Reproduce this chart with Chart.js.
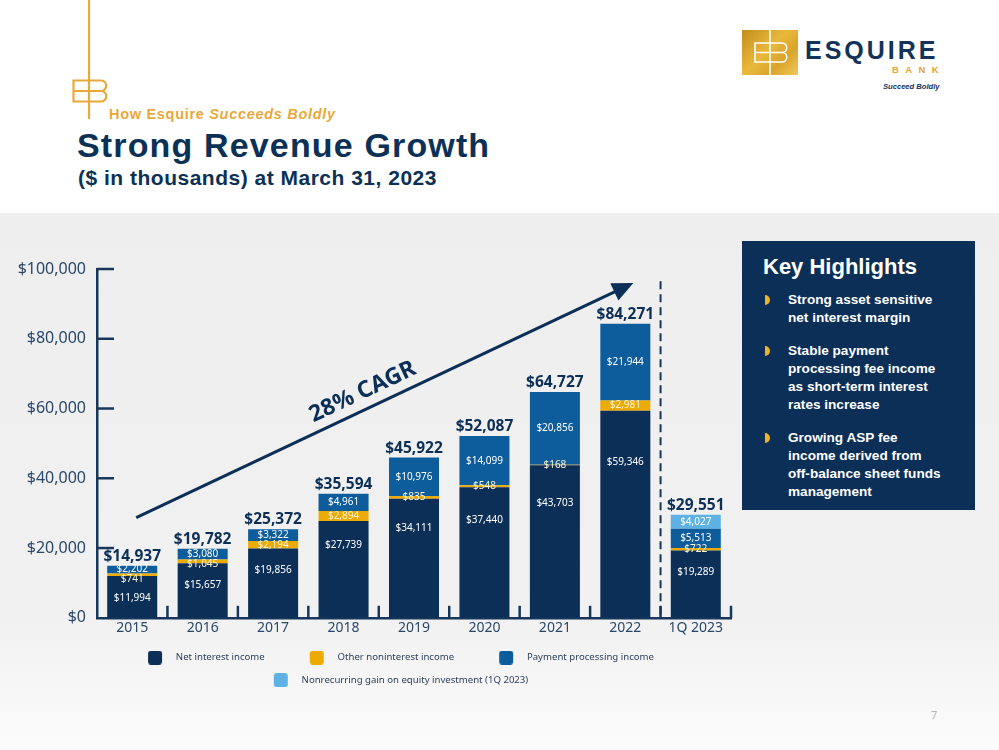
<!DOCTYPE html>
<html>
<head>
<meta charset="utf-8">
<script src="https://cdn.jsdelivr.net/npm/chart.js@4.4.0/dist/chart.umd.min.js"></script>
<style>
html,body{margin:0;padding:0;}
body{width:999px;height:750px;position:relative;overflow:hidden;background:#fff;font-family:"Liberation Sans",Arial,sans-serif;}
#band{position:absolute;left:0;top:213px;width:999px;height:537px;background:linear-gradient(#eeeeee,#f1f1f1 75%,#fbfbfb);}
.abs{position:absolute;white-space:nowrap;}
#kicker{left:109px;top:106px;font-size:14.5px;font-weight:bold;color:#e9a83a;letter-spacing:0.7px;}
#title{left:77px;top:126px;font-size:34px;font-weight:bold;color:#0c3157;letter-spacing:1.15px;}
#subtitle{left:78px;top:166px;font-size:21px;font-weight:bold;color:#0c3157;letter-spacing:0.5px;}
#goldsq{left:742px;top:30px;width:56px;height:45px;background:linear-gradient(135deg,#c18d1c,#e9b93c 45%,#d9a42a 70%,#f0c75a);}
#esq{left:805px;top:36px;font-size:25px;font-weight:bold;color:#13335a;letter-spacing:3px;}
#bank{left:892px;top:64px;font-size:9.5px;font-weight:bold;color:#e3a532;letter-spacing:6.4px;}
#sb{left:883px;top:82px;font-size:7.6px;font-weight:bold;font-style:italic;color:#13335a;}
#box{left:742px;top:241px;width:233px;height:269px;background:#0c2f57;color:#fff;}
#box h2{margin:0;position:absolute;left:21px;top:14px;font-size:22px;line-height:24px;font-weight:bold;}
#box ul{list-style:none;margin:0;padding:0;position:absolute;left:0;top:50px;width:233px;}
#box li{position:relative;padding-left:46px;font-size:13.6px;font-weight:bold;line-height:18px;margin-bottom:15px;}
#box li::before{content:"";position:absolute;left:23px;top:4px;width:5px;height:10px;border-radius:0 5px 5px 0;background:#f0b323;}
#pg{left:931px;top:707px;font-size:11px;color:#b5b5b5;font-family:"Noto Sans",sans-serif;}
#wrap{position:absolute;left:0;top:240px;width:800px;height:460px;}
</style>
</head>
<body>
<div id="band"></div>
<svg class="abs" style="left:0;top:0" width="200" height="130">
  <line x1="89" y1="0" x2="89" y2="119" stroke="#e9a83a" stroke-width="2.2"/>
  <path d="M101,80.5 H73.5 V101.5 H101 M73.5,91 H101 M101,80.5 A5.25,5.25 0 0 1 101,91 A5.25,5.25 0 0 1 101,101.5" fill="none" stroke="#e9a83a" stroke-width="2.2"/>
</svg>
<div id="kicker" class="abs">How Esquire <i>Succeeds Boldly</i></div>
<div id="title" class="abs">Strong Revenue Growth</div>
<div id="subtitle" class="abs">($ in thousands) at March 31, 2023</div>

<div id="goldsq" class="abs"></div>
<svg class="abs" style="left:742px;top:30px" width="56" height="45">
  <line x1="28" y1="0" x2="28" y2="45" stroke="#fff" stroke-width="1.6"/>
  <path d="M40,13 H13 V32 H40 M13,22.5 H40 M40,13 A4.75,4.75 0 0 1 40,22.5 A4.75,4.75 0 0 1 40,32" fill="none" stroke="#fff" stroke-width="1.6"/>
</svg>
<div id="esq" class="abs">ESQUIRE</div>
<div id="bank" class="abs">BANK</div>
<div id="sb" class="abs">Succeed Boldly</div>

<div id="wrap"><canvas id="chart"></canvas></div>

<div id="box" class="abs">
  <h2>Key Highlights</h2>
  <ul>
    <li>Strong asset sensitive<br>net interest margin</li>
    <li>Stable payment<br>processing fee income<br>as short-term interest<br>rates increase</li>
    <li>Growing ASP fee<br>income derived from<br>off-balance sheet funds<br>management</li>
  </ul>
</div>
<div id="pg" class="abs">7</div>

<script>
// ---- data ----
const categories = ['2015','2016','2017','2018','2019','2020','2021','2022','1Q 2023'];
const netInterestIncome = [11994,15657,19856,27739,34111,37440,43703,59346,19289];
const otherNoninterestIncome = [741,1045,2194,2894,835,548,168,2981,722];
const paymentProcessingIncome = [2202,3080,3322,4961,10976,14099,20856,21944,5513];
const nonrecurringGain = [null,null,null,null,null,null,null,null,4027];
const totalRevenue = [14937,19782,25372,35594,45922,52087,64727,84271,29551];
const yTickValues = [0,20000,40000,60000,80000,100000];
const seriesNames = ['Net interest income','Other noninterest income','Payment processing income','Nonrecurring gain on equity investment (1Q 2023)'];
const cagrText = '28% CAGR';

// ---- style ----
const NAVY = '#0c2f57';
const AXIS = '#17365c';
const TICKC = '#2a4769';
const seriesColors = ['#0c2f57','#edab00','#0d5c9c','#5eb2e3'];
const FONT = '"Noto Sans", sans-serif';
const money = v => '$' + Number(v).toLocaleString('en-US');

function legendIcon(color){
  const c = document.createElement('canvas');
  c.width = 55; c.height = 14;
  const g = c.getContext('2d');
  g.fillStyle = color;
  g.beginPath();
  if (g.roundRect) g.roundRect(32,0,14,14,3); else g.rect(32,0,14,14);
  g.fill();
  return c;
}
const legendIcons = seriesColors.map(legendIcon);

const axisMarks = {
  id: 'axisMarks',
  afterDatasetsDraw(chart){
    const {ctx, chartArea: a, scales: {x, y}} = chart;
    ctx.save();
    ctx.strokeStyle = AXIS;
    ctx.lineWidth = 2.5;
    yTickValues.forEach(v => {
      if (v === 0) return;
      const py = y.getPixelForValue(v);
      ctx.beginPath(); ctx.moveTo(a.left, py); ctx.lineTo(a.left + 17, py); ctx.stroke();
    });
    const n = categories.length;
    for (let i = 1; i <= n; i++) {
      const px = i < n ? (x.getPixelForValue(i-1) + x.getPixelForValue(i)) / 2 : a.right;
      ctx.beginPath(); ctx.moveTo(px, a.bottom); ctx.lineTo(px, a.bottom - 12); ctx.stroke();
    }
    // dashed separator before 1Q 2023
    const dx = (x.getPixelForValue(n-2) + x.getPixelForValue(n-1)) / 2;
    ctx.lineWidth = 2;
    ctx.setLineDash([8,5]);
    ctx.beginPath(); ctx.moveTo(dx, y.getPixelForValue(96500)); ctx.lineTo(dx, a.bottom); ctx.stroke();
    ctx.setLineDash([]);
    // CAGR arrow
    const x0 = x.getPixelForValue(0) + 4, y0 = y.getPixelForValue(28700);
    const x1 = x.getPixelForValue(7) + 8, y1 = y.getPixelForValue(96000);
    const ang = Math.atan2(y1 - y0, x1 - x0);
    const hl = 21, hw = 9.5;
    const bx = x1 - hl * Math.cos(ang), by = y1 - hl * Math.sin(ang);
    ctx.strokeStyle = NAVY; ctx.fillStyle = NAVY; ctx.lineWidth = 3;
    ctx.beginPath(); ctx.moveTo(x0, y0); ctx.lineTo(bx + 2*Math.cos(ang), by + 2*Math.sin(ang)); ctx.stroke();
    ctx.beginPath();
    ctx.moveTo(x1, y1);
    ctx.lineTo(bx + hw * Math.sin(ang), by - hw * Math.cos(ang));
    ctx.lineTo(bx - hw * Math.sin(ang), by + hw * Math.cos(ang));
    ctx.closePath(); ctx.fill();
    const t = 0.47;
    const tx = x0 + (x1 - x0) * t + 17 * Math.sin(ang);
    const ty = y0 + (y1 - y0) * t - 17 * Math.cos(ang);
    ctx.translate(tx, ty); ctx.rotate(ang);
    ctx.font = 'bold 23px ' + FONT;
    ctx.textAlign = 'center'; ctx.textBaseline = 'middle';
    ctx.fillText(cagrText, 0, 0);
    ctx.restore();
  }
};

const barLabels = {
  id: 'barLabels',
  afterDatasetsDraw(chart){
    const {ctx, scales: {x, y}} = chart;
    ctx.save();
    ctx.textAlign = 'center'; ctx.textBaseline = 'middle';
    ctx.font = '10px ' + FONT;
    const blueY = [];
    [2,0,1,3].forEach(di => {
      const ds = chart.data.datasets[di];
      const meta = chart.getDatasetMeta(di);
      meta.data.forEach((bar, i) => {
        const v = ds.data[i];
        if (v == null) return;
        const top = Math.min(bar.y, bar.base), h = Math.abs(bar.base - bar.y);
        let ly = top + h / 2;
        if (di === 0) ly = top + Math.max(22, h * 0.25);
        if (di === 2) blueY[i] = ly;
        if (di === 1 && blueY[i] != null && ly - blueY[i] < 10) ly = blueY[i] + 10;
        ctx.fillStyle = di === 1 ? '#fff3d4' : '#ffffff';
        ctx.fillText(money(v), bar.x, ly);
      });
    });
    ctx.font = 'bold 15.5px ' + FONT;
    ctx.fillStyle = NAVY;
    ctx.textBaseline = 'alphabetic';
    totalRevenue.forEach((t, i) => {
      ctx.fillText(money(t), x.getPixelForValue(i), y.getPixelForValue(t) - 5);
    });
    ctx.restore();
  }
};

const mk = (label, data, color) => ({
  label, data, backgroundColor: color, borderWidth: 0,
  categoryPercentage: 1.0, barPercentage: 0.71, stack: 's'
});

new Chart(document.getElementById('chart'), {
  type: 'bar',
  data: {
    labels: categories,
    datasets: [
      mk(seriesNames[0], netInterestIncome, seriesColors[0]),
      mk(seriesNames[1], otherNoninterestIncome, seriesColors[1]),
      mk(seriesNames[2], paymentProcessingIncome, seriesColors[2]),
      mk(seriesNames[3], nonrecurringGain, seriesColors[3])
    ]
  },
  options: {
    responsive: true,
    maintainAspectRatio: false,
    animation: false,
    layout: { padding: { left: 15, right: 45, top: 29, bottom: 5 } },
    scales: {
      x: {
        stacked: true, z: 1,
        grid: { display: false, drawTicks: false },
        border: { display: true, color: AXIS, width: 2.5 },
        ticks: { color: TICKC, font: { size: 14, family: FONT }, padding: 2 },
        afterFit: s => { s.height = 22; }
      },
      y: {
        stacked: true, z: 1,
        min: 0, max: 100000,
        grid: { display: false, drawTicks: false },
        border: { display: true, color: AXIS, width: 2.5 },
        ticks: { color: TICKC, font: { size: 16, family: FONT }, padding: 11, callback: v => money(v) },
        afterBuildTicks: s => { s.ticks = yTickValues.map(v => ({ value: v })); },
        afterFit: s => { s.width = 82; }
      },
      yPad: {
        type: 'linear', position: 'right', display: true, min: 0, max: 1,
        grid: { display: false, drawTicks: false },
        border: { display: false },
        ticks: { display: false },
        afterFit: s => { s.width = 24; }
      }
    },
    plugins: {
      tooltip: { enabled: false },
      legend: {
        position: 'bottom',
        labels: {
          usePointStyle: true,
          pointStyleWidth: 55,
          padding: 13,
          color: '#2b3f5c',
          font: { size: 9.6, family: FONT },
          generateLabels(chart) {
            const items = Chart.defaults.plugins.legend.labels.generateLabels(chart);
            items.forEach((it, i) => { it.pointStyle = legendIcons[i]; });
            return items;
          }
        }
      }
    }
  },
  plugins: [axisMarks, barLabels]
});
</script>
</body>
</html>
